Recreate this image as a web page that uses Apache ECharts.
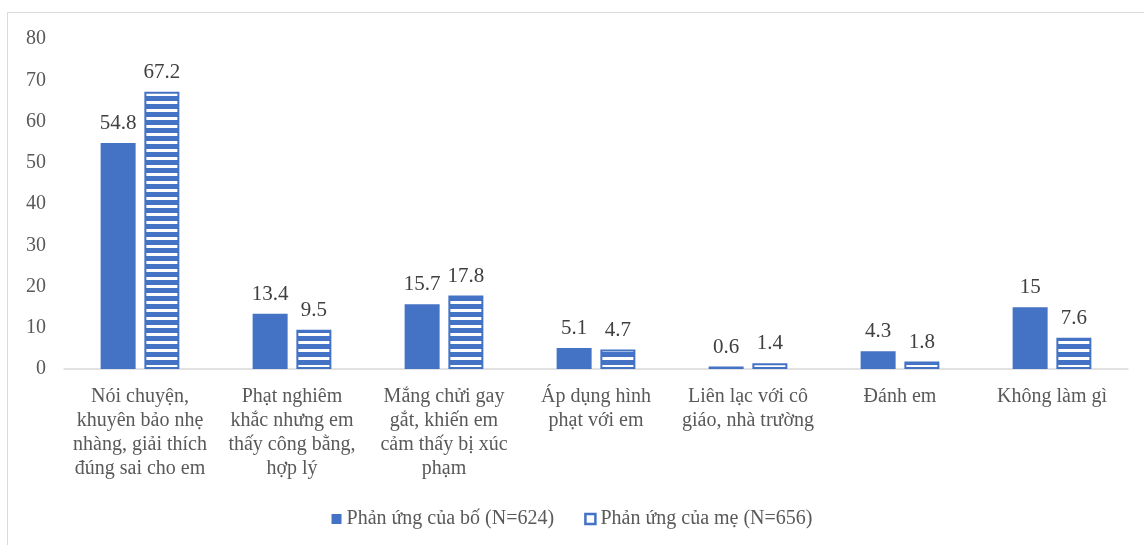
<!DOCTYPE html>
<html><head><meta charset="utf-8">
<script src="https://cdn.jsdelivr.net/npm/echarts@6/dist/echarts.min.js"></script>
<style>html,body{margin:0;padding:0;background:#fff}#c{width:1144px;height:545px}</style>
</head><body><div id="c"></div>
<script>
var categories = [
  "Nói chuyện,\nkhuyên bảo nhẹ\nnhàng, giải thích\nđúng sai cho em",
  "Phạt nghiêm\nkhắc nhưng em\nthấy công bằng,\nhợp lý",
  "Mắng chửi gay\ngắt, khiến em\ncảm thấy bị xúc\nphạm",
  "Áp dụng hình\nphạt với em",
  "Liên lạc với cô\ngiáo, nhà trường",
  "Đánh em",
  "Không làm gì"
];
var fatherValues = [54.8, 13.4, 15.7, 5.1, 0.6, 4.3, 15];
var motherValues = [67.2, 9.5, 17.8, 4.7, 1.4, 1.8, 7.6];
var seriesNames = ["Phản ứng của bố (N=624)", "Phản ứng của mẹ (N=656)"];
var yTicks = [0, 10, 20, 30, 40, 50, 60, 70, 80];

var blue = '#4472C4';
var pc = document.createElement('canvas');
pc.width = 8; pc.height = 8;
var ctx = pc.getContext('2d');
ctx.fillStyle = blue; ctx.fillRect(0, 0, 8, 8);
ctx.fillStyle = '#ffffff'; ctx.fillRect(0, 5, 8, 3);

var font = '"Liberation Serif", "Times New Roman", serif';
var chart = echarts.init(document.getElementById('c'));
chart.setOption({
  animation: false,
  textStyle: {fontFamily: font},
  graphic: [{type: 'rect', shape: {x: 7.5, y: 12.5, width: 1300, height: 700},
    style: {fill: 'none', stroke: '#d9d9d9', lineWidth: 1}, silent: true, z: -1}],
  grid: {left: 64, right: 16, top: 39, bottom: 176},
  legend: {
    bottom: 11, left: 'center', itemWidth: 10, itemHeight: 10, itemGap: 30,
    textStyle: {fontFamily: font, fontSize: 20, color: '#595959'},
    data: [
      {name: seriesNames[0], icon: 'rect'},
      {name: seriesNames[1], icon: 'rect', itemStyle: {color: '#fff', borderColor: blue, borderWidth: 2.5}}
    ]
  },
  xAxis: {
    type: 'category', data: categories,
    axisLine: {lineStyle: {color: '#d9d9d9', width: 1.5}},
    axisTick: {show: false},
    axisLabel: {interval: 0, color: '#595959', fontFamily: font, fontSize: 20, lineHeight: 24, margin: 16}
  },
  yAxis: {
    type: 'value', min: yTicks[0], max: yTicks[yTicks.length - 1], interval: 10,
    splitLine: {show: false}, axisLine: {show: false}, axisTick: {show: false},
    axisLabel: {color: '#595959', fontFamily: font, fontSize: 20, margin: 18}
  },
  series: [
    {name: seriesNames[0], type: 'bar', data: fatherValues, barWidth: 35, barGap: '25%',
     itemStyle: {color: blue},
     label: {show: true, position: 'top', distance: 9, color: '#404040', fontFamily: font, fontSize: 21}},
    {name: seriesNames[1], type: 'bar', data: motherValues, barWidth: 35,
     itemStyle: {color: {image: pc, repeat: 'repeat'}, borderColor: blue, borderWidth: 2},
     label: {show: true, position: 'top', distance: 9, color: '#404040', fontFamily: font, fontSize: 21}}
  ]
});
</script></body></html>
